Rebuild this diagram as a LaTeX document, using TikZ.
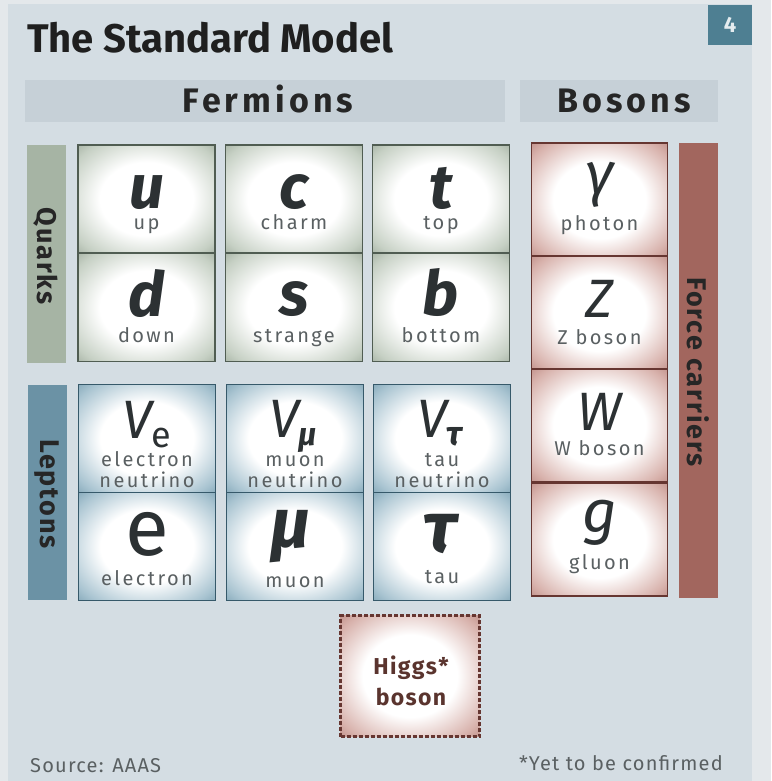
\documentclass[tikz,border=0pt]{standalone}
\usepackage{fontspec}
\setmainfont{Fira Sans}
\usetikzlibrary{shadings}
\definecolor{outerbg}{HTML}{E4E8EB}
\definecolor{panelbg}{HTML}{D4DDE3}
\definecolor{bandbg}{HTML}{C6D0D7}
\definecolor{qedge}{HTML}{7F8E7D}
\definecolor{qmid}{HTML}{C6D0C4}
\definecolor{qbar}{HTML}{A6B4A4}
\definecolor{qline}{HTML}{505D52}
\definecolor{ledge}{HTML}{55849A}
\definecolor{lmid}{HTML}{A9C4D1}
\definecolor{lbar}{HTML}{6B92A5}
\definecolor{lline}{HTML}{36596A}
\definecolor{bedge}{HTML}{A0645C}
\definecolor{bmid}{HTML}{D8B2AC}
\definecolor{bbar}{HTML}{A2665E}
\definecolor{bline}{HTML}{663631}
\definecolor{symcol}{HTML}{2C3133}
\definecolor{labcol}{HTML}{5A6062}
\definecolor{numbox}{HTML}{4E7F92}
\definecolor{higgstext}{HTML}{5A342E}
\pgfdeclareradialshading{qshade}{\pgfpoint{0bp}{0bp}}{color(0bp)=(white); color(17bp)=(white); color(31bp)=(qmid); color(43bp)=(qedge); color(50bp)=(qedge)}
\pgfdeclareradialshading{lshade}{\pgfpoint{0bp}{0bp}}{color(0bp)=(white); color(17bp)=(white); color(31bp)=(lmid); color(43bp)=(ledge); color(50bp)=(ledge)}
\pgfdeclareradialshading{bshade}{\pgfpoint{0bp}{0bp}}{color(0bp)=(white); color(17bp)=(white); color(31bp)=(bmid); color(43bp)=(bedge); color(50bp)=(bedge)}
\tikzset{
  qcell/.style={draw=qline, line width=1.6pt, shading=qshade, minimum width=137pt, minimum height=108pt, inner sep=0pt},
  lcell/.style={draw=lline, line width=1.6pt, shading=lshade, minimum width=137pt, minimum height=108pt, inner sep=0pt},
  bcell/.style={draw=bline, line width=1.6pt, shading=bshade, minimum width=136pt, minimum height=113.5pt, inner sep=0pt},
  sym/.style={anchor=base, text=symcol, font=\fontsize{62}{62}\selectfont\bfseries\itshape, inner sep=0pt},
  lab/.style={anchor=base, text=labcol, font=\fontsize{20}{21}\selectfont\addfontfeature{LetterSpace=12}, inner sep=0pt},
  sidebar/.style={inner sep=0pt, minimum width=39pt},
  sidetext/.style={rotate=-90, text=black!85, font=\fontsize{27}{27}\selectfont\bfseries\addfontfeature{LetterSpace=7}, inner sep=0pt},
  head/.style={text=black!85, font=\fontsize{34}{34}\selectfont\bfseries\addfontfeature{LetterSpace=12}, inner sep=0pt},
  foot/.style={text=labcol, font=\fontsize{20}{20}\selectfont\addfontfeature{LetterSpace=6}, inner sep=0pt},
}
\begin{document}
\begin{tikzpicture}[x=1pt,y=-1pt]
\useasboundingbox (0,0) rectangle (771,781);
\fill[outerbg] (0,0) rectangle (771,781);
\fill[panelbg] (8,4) rectangle (752,781);
% number box
\node[fill=numbox, minimum width=44pt, minimum height=40pt, inner sep=0pt, text=white!85!numbox, font=\fontsize{22}{22}\selectfont\bfseries] (num) at (730,25) {4};
% title
\node[anchor=base west, text=black!88, font=\fontsize{40}{40}\selectfont\bfseries, inner sep=0pt] (title) at (27,53) {The Standard Model};
% header bands
\node[fill=bandbg, minimum width=480pt, minimum height=42pt, inner sep=0pt] (fband) at (265,101) {};
\node[fill=bandbg, minimum width=198pt, minimum height=42pt, inner sep=0pt] (bband) at (619,101) {};
\node[head, anchor=base] (fermions) at (268,113) {Fermions};
\node[head, anchor=base] (bosons) at (624,113) {Bosons};
% side bars
\node[sidebar, fill=qbar, minimum height=218pt] (qbarn) at (46,254) {};
\node[sidetext] (quarks) at (46,256) {Quarks};
\node[sidebar, fill=lbar, minimum height=215pt] (lbarn) at (47,492.5) {};
\node[sidetext] (leptons) at (47,494) {Leptons};
\node[sidebar, fill=bbar, minimum height=455pt] (fbarn) at (698,370.5) {};
\node[sidetext] (force) at (698,372) {Force carriers};
% quark cells
\node[qcell] (cu) at (146.5,199) {};
\node[qcell] (cd) at (146.5,307.5) {};
\node[qcell] (cc) at (294,199) {};
\node[qcell] (cs) at (294,307.5) {};
\node[qcell] (ct) at (441,199) {};
\node[qcell] (cb) at (441,307.5) {};
\node[sym] (su) at (146.5,208) {u};
\node[lab] (lu) at (146.5,229) {up};
\node[sym] (sd) at (146.5,316) {d};
\node[lab] (ld) at (146.5,342) {down};
\node[sym] (sc) at (294,208) {c};
\node[lab] (lc) at (294,229) {charm};
\node[sym] (ss) at (294,315) {s};
\node[lab] (ls) at (294,342) {strange};
\node[sym] (st) at (441,208) {t};
\node[lab] (lt) at (441,229) {top};
\node[sym] (sb) at (441,315) {b};
\node[lab] (lb) at (441,342) {bottom};
% lepton cells
\node[lcell] (cne) at (147,438.5) {};
\node[lcell] (ce) at (147,546.5) {};
\node[lcell] (cnm) at (295,438.5) {};
\node[lcell] (cm) at (295,546.5) {};
\node[lcell] (cnt) at (442,438.5) {};
\node[lcell] (ct2) at (442,546.5) {};
\node[sym, font=\fontsize{54}{54}\selectfont\itshape] (sne) at (147,438) {V\kern-1pt\raisebox{-9pt}{\fontsize{36}{36}\selectfont\upshape e}};
\node[lab] (lne1) at (147,466) {electron};
\node[lab] (lne2) at (147,487) {neutrino};
\node[sym, font=\fontsize{80}{80}\selectfont\upshape] (se) at (147,555) {e};
\node[lab] (le) at (147,585) {electron};
\node[sym, font=\fontsize{54}{54}\selectfont\itshape] (snm) at (293,437) {V\kern-1pt\raisebox{-8pt}{\fontsize{32}{32}\selectfont\bfseries\itshape μ}};
\node[lab] (lnm1) at (295,466) {muon};
\node[lab] (lnm2) at (295,487) {neutrino};
\node[sym, font=\fontsize{70}{70}\selectfont\bfseries\itshape] (sm) at (291,547) {μ};
\node[lab] (lm) at (295,587) {muon};
\node[sym, font=\fontsize{54}{54}\selectfont\itshape] (snt) at (440,437) {V\kern-1pt\raisebox{-8pt}{\fontsize{34}{34}\selectfont\bfseries\itshape τ}};
\node[lab] (lnt1) at (442,466) {tau};
\node[lab] (lnt2) at (442,487) {neutrino};
\node[sym, font=\fontsize{72}{72}\selectfont\bfseries\itshape] (stau) at (440,552) {τ};
\node[lab] (ltau) at (442,583) {tau};
% boson cells
\node[bcell] (cg) at (599.5,200) {};
\node[bcell] (cz) at (599.5,312.5) {};
\node[bcell] (cw) at (599.5,425.5) {};
\node[bcell] (cgl) at (599.5,539.5) {};
\node[sym, font=\fontsize{60}{60}\selectfont\itshape] (sgam) at (599.5,194) {γ};
\node[lab] (lgam) at (599.5,230) {photon};
\node[sym, font=\fontsize{54}{54}\selectfont\itshape] (sz) at (599.5,317) {Z};
\node[lab] (lz) at (599.5,344) {Z boson};
\node[sym, font=\fontsize{54}{54}\selectfont\itshape] (sw) at (599.5,430) {W};
\node[lab] (lw) at (599.5,455) {W boson};
\node[sym, font=\fontsize{60}{60}\selectfont\itshape] (sg) at (599.5,532) {g};
\node[lab] (lg) at (599.5,569) {gluon};
% Higgs
\node[draw=bline, line width=2.2pt, dash pattern=on 4pt off 2pt, shading=bshade, minimum width=139pt, minimum height=121pt, inner sep=0pt] (higgs) at (410,676) {};
\node[text=higgstext, font=\fontsize{23}{31}\selectfont\bfseries\addfontfeature{LetterSpace=6}, align=center, inner sep=0pt] (higgst) at (411,681) {Higgs*\\boson};
% footer
\node[foot, anchor=base west] (src) at (30,772) {Source: AAAS};
\node[foot, anchor=base east] (note) at (723,770) {*Yet to be confirmed};
\end{tikzpicture}
\end{document}
